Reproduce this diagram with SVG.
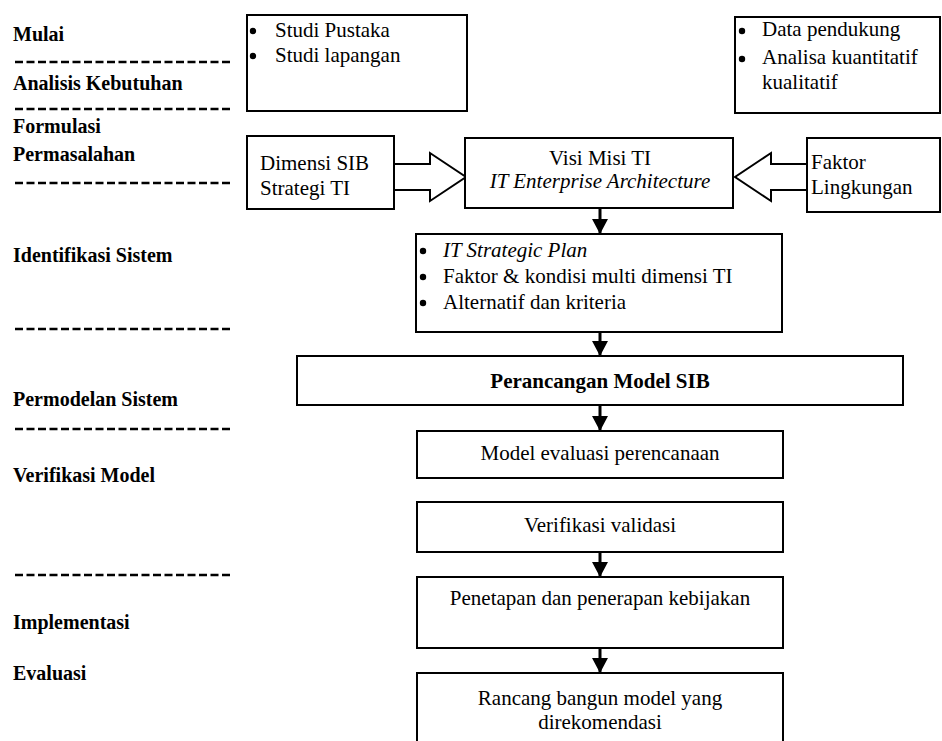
<svg xmlns="http://www.w3.org/2000/svg" width="942" height="741" viewBox="0 0 942 741" font-family="'Liberation Serif', 'Times New Roman', Tinos, 'DejaVu Serif', serif">
<style>
  .bg { fill: #ffffff; }
  .box { fill: #ffffff; stroke: #000000; stroke-width: 2; }
  .open { fill: none; stroke: #000000; stroke-width: 2; }
  text { font-family: 'Liberation Serif', 'Times New Roman', Tinos, 'DejaVu Serif', serif; fill: #000000; }
  .stage { font-size: 20px; font-weight: bold; }
  .t { font-size: 21px; }
  .tc { font-size: 21px; text-anchor: middle; }
  .it { font-style: italic; }
  .b { font-weight: bold; }
  .dash { stroke: #000000; stroke-width: 2.5; stroke-dasharray: 8 3.5; fill: none; }
  .flow { stroke: #000000; stroke-width: 3; fill: none; marker-end: url(#head); }
  .block { fill: #ffffff; stroke: #000000; stroke-width: 2; stroke-linejoin: miter; }
</style>
<defs>
  <marker id="head" viewBox="0 0 15 16" refX="15" refY="8" markerWidth="15" markerHeight="16" markerUnits="userSpaceOnUse" orient="auto">
    <path d="M0,0 L15,8 L0,16 z" fill="#000000"/>
  </marker>
  <circle id="dot" r="3.2" fill="#000000"/>
</defs>
<rect class="bg" x="0" y="0" width="942" height="741"/>

<g id="stages">
  <text class="stage" x="13" y="41">Mulai</text>
  <line class="dash" x1="15" y1="62" x2="232" y2="62"/>
  <text class="stage" x="13" y="90">Analisis Kebutuhan</text>
  <line class="dash" x1="15" y1="109" x2="232" y2="109"/>
  <text class="stage" x="13" y="133">Formulasi</text>
  <text class="stage" x="13" y="161">Permasalahan</text>
  <line class="dash" x1="15" y1="183" x2="232" y2="183"/>
  <text class="stage" x="13" y="262">Identifikasi Sistem</text>
  <line class="dash" x1="15" y1="329" x2="232" y2="329"/>
  <text class="stage" x="13" y="406">Permodelan Sistem</text>
  <line class="dash" x1="15" y1="429" x2="232" y2="429"/>
  <text class="stage" x="13" y="482">Verifikasi Model</text>
  <line class="dash" x1="15" y1="575" x2="232" y2="575"/>
  <text class="stage" x="13" y="629">Implementasi</text>
  <text class="stage" x="13" y="680">Evaluasi</text>
</g>

<g id="connectors">
  <polygon class="block" points="394,164 430,164 430,153 466,177 430,201 430,190 394,190"/>
  <polygon class="block" points="807,164 771,164 771,153 735,177 771,201 771,190 807,190"/>
  <line class="flow" x1="600" y1="208" x2="600" y2="234"/>
  <line class="flow" x1="600" y1="332" x2="600" y2="356"/>
  <line class="flow" x1="600" y1="405" x2="600" y2="431"/>
  <line class="flow" x1="600" y1="552" x2="600" y2="577"/>
  <line class="flow" x1="600" y1="648" x2="600" y2="673"/>
</g>

<g id="n-studi">
  <rect class="box" x="247" y="15" width="220" height="96"/>
  <use href="#dot" x="253" y="31"/>
  <text class="t" x="275" y="37">Studi Pustaka</text>
  <use href="#dot" x="253" y="56"/>
  <text class="t" x="275" y="62">Studi lapangan</text>
</g>

<g id="n-data">
  <rect class="box" x="735" y="17" width="205" height="96"/>
  <use href="#dot" x="742" y="31"/>
  <text class="t" x="762" y="36">Data pendukung</text>
  <use href="#dot" x="742" y="59"/>
  <text class="t" x="762" y="64">Analisa kuantitatif</text>
  <text class="t" x="762" y="89">kualitatif</text>
</g>

<g id="n-dimensi">
  <rect class="box" x="247" y="136" width="147" height="73"/>
  <text class="t" x="260" y="170">Dimensi SIB</text>
  <text class="t" x="260" y="195">Strategi TI</text>
</g>

<g id="n-visi">
  <rect class="box" x="465" y="138" width="268" height="70"/>
  <text class="tc" x="600" y="165">Visi Misi TI</text>
  <text class="tc it" x="600" y="188">IT Enterprise Architecture</text>
</g>

<g id="n-faktor">
  <rect class="box" x="807" y="138" width="133" height="74"/>
  <text class="t" x="811" y="169">Faktor</text>
  <text class="t" x="811" y="194">Lingkungan</text>
</g>

<g id="n-itplan">
  <rect class="box" x="416" y="234" width="366" height="98"/>
  <use href="#dot" x="423" y="251"/>
  <text class="t it" x="443" y="257">IT Strategic Plan</text>
  <use href="#dot" x="423" y="277"/>
  <text class="t" x="443" y="283">Faktor &amp; kondisi multi dimensi TI</text>
  <use href="#dot" x="423" y="303"/>
  <text class="t" x="443" y="309">Alternatif dan kriteria</text>
</g>

<g id="n-perancangan">
  <rect class="box" x="297" y="356" width="606" height="49"/>
  <text class="tc b" x="600" y="388">Perancangan Model SIB</text>
</g>

<g id="n-model">
  <rect class="box" x="417" y="431" width="366" height="47"/>
  <text class="tc" x="600" y="460">Model evaluasi perencanaan</text>
</g>

<g id="n-verifikasi">
  <rect class="box" x="417" y="502" width="366" height="50"/>
  <text class="tc" x="600" y="532">Verifikasi validasi</text>
</g>

<g id="n-penetapan">
  <rect class="box" x="417" y="577" width="366" height="71"/>
  <text class="tc" x="600" y="605">Penetapan dan penerapan kebijakan</text>
</g>

<g id="n-rancang">
  <path class="open" d="M417,745 V673 H783 V745"/>
  <text class="tc" x="600" y="705">Rancang bangun model yang</text>
  <text class="tc" x="600" y="729">direkomendasi</text>
</g>
</svg>
